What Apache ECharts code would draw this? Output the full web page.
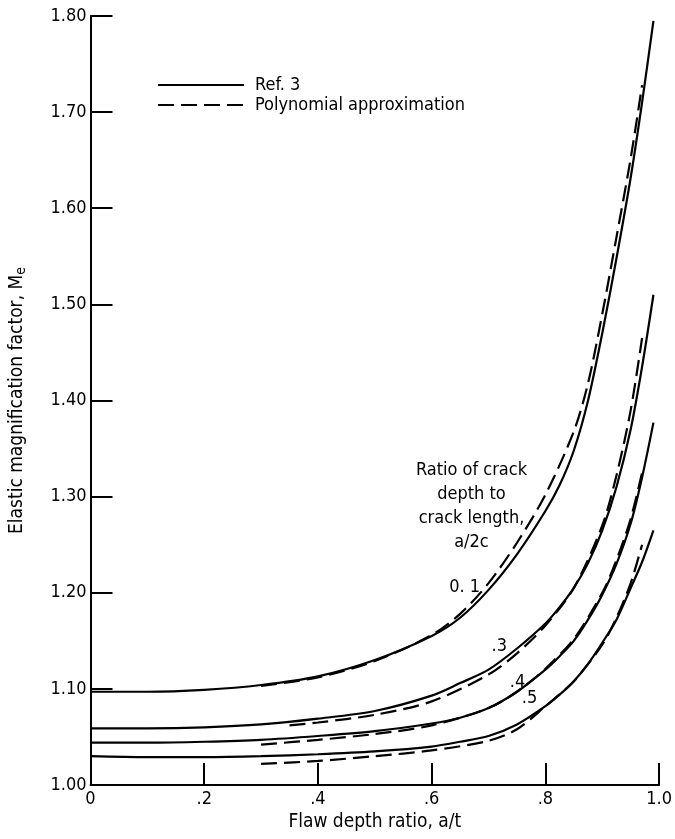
<!DOCTYPE html>
<html><head><meta charset="utf-8">
<script src="https://cdn.jsdelivr.net/npm/echarts@6/dist/echarts.min.js"></script>
<style>html,body{margin:0;padding:0;background:#fff}#c{width:675px;height:839px}</style>
</head><body><div id="c"></div>
<script>
// ---- tick labels ----
const xTickLabels = ['0', '.2', '.4', '.6', '.8', '1.0'];
const yTickLabels = ['1.00', '1.10', '1.20', '1.30', '1.40', '1.50', '1.60', '1.70', '1.80'];

// ---- Ref. 3 (solid) curves ----
const xSolid = [0, 0.1, 0.2, 0.3, 0.4, 0.5, 0.6, 0.65, 0.7, 0.75, 0.8, 0.825, 0.85, 0.875, 0.9, 0.925, 0.95, 0.97, 0.99];
const ySolid01 = [1.097, 1.097, 1.099, 1.104, 1.113, 1.130, 1.155, 1.174, 1.203, 1.240, 1.285, 1.312, 1.348, 1.400, 1.470, 1.548, 1.632, 1.710, 1.795];
const ySolid03 = [1.059, 1.059, 1.060, 1.063, 1.069, 1.077, 1.093, 1.106, 1.120, 1.142, 1.168, 1.185, 1.205, 1.231, 1.265, 1.310, 1.370, 1.435, 1.510];
const ySolid04 = [1.044, 1.044, 1.045, 1.047, 1.051, 1.056, 1.064, 1.070, 1.080, 1.097, 1.120, 1.134, 1.150, 1.172, 1.198, 1.230, 1.272, 1.320, 1.377];
const ySolid05 = [1.030, 1.029, 1.029, 1.030, 1.032, 1.035, 1.040, 1.045, 1.051, 1.063, 1.082, 1.094, 1.108, 1.126, 1.148, 1.172, 1.205, 1.232, 1.265];

// ---- Polynomial approximation (dashed) curves ----
const xDash01 = [0.3, 0.4, 0.5, 0.6, 0.65, 0.7, 0.75, 0.8, 0.85, 0.875, 0.9, 0.925, 0.95, 0.97];
const yDash01 = [1.103, 1.112, 1.129, 1.156, 1.178, 1.210, 1.252, 1.302, 1.368, 1.418, 1.490, 1.570, 1.652, 1.728];
const xDash03 = [0.35, 0.4, 0.5, 0.6, 0.7, 0.75, 0.8, 0.85, 0.9, 0.925, 0.95, 0.97];
const yDash03 = [1.062, 1.065, 1.073, 1.087, 1.115, 1.137, 1.166, 1.205, 1.270, 1.322, 1.390, 1.465];
const xDash04 = [0.3, 0.4, 0.5, 0.6, 0.7, 0.75, 0.8, 0.85, 0.9, 0.925, 0.95, 0.97];
const yDash04 = [1.042, 1.047, 1.053, 1.062, 1.080, 1.097, 1.121, 1.152, 1.200, 1.234, 1.277, 1.325];
const xDash05 = [0.3, 0.4, 0.5, 0.6, 0.7, 0.75, 0.8, 0.85, 0.9, 0.925, 0.95, 0.97];
const yDash05 = [1.022, 1.025, 1.030, 1.036, 1.046, 1.058, 1.082, 1.108, 1.146, 1.174, 1.210, 1.250];

// ---- annotations ----
const curveLabels = ['0. 1', '.3', '.4', '.5'];
const curveLabelX = [0.658, 0.719, 0.751, 0.772];
const curveLabelY = [1.206, 1.144, 1.107, 1.090];
const noteText = 'Ratio of crack\ndepth to\ncrack length,\na/2c';
const noteX = [0.670];
const noteY = [1.290];

const FONT = '"Liberation Sans Narrow", "DejaVu Sans Condensed", "Noto Sans", sans-serif';
const zip = (xs, ys) => xs.map((x, i) => [x, ys[i]]);

function lineSeries(name, xs, ys, dashed) {
  return {
    type: 'line', name: name, data: zip(xs, ys), symbol: 'none',
    smooth: 0.3, silent: true,
    lineStyle: { color: '#000', width: 2.2, type: dashed ? [16, 7] : 'solid' },
    itemStyle: { color: '#000' }
  };
}

const labelStyle = { fontFamily: FONT, fontSize: 18, color: '#000', textBorderWidth: 0, textShadowBlur: 0, opacity: 1 };

const chart = echarts.init(document.getElementById('c'), null, { renderer: 'canvas' });
chart.setOption({
  animation: false,
  backgroundColor: '#fff',
  textStyle: { fontFamily: FONT, color: '#000' },
  grid: { left: 90, right: 15, top: 16, bottom: 54 },
  legend: {
    data: ['Ref. 3', 'Polynomial approximation'],
    orient: 'vertical', left: 157, top: 76, itemWidth: 86, itemHeight: 12, itemGap: 2,
    padding: 0, selectedMode: false,
    itemStyle: { opacity: 0, borderWidth: 0 },
    textStyle: { fontFamily: FONT, fontSize: 18, color: '#000', padding: [0, 0, 0, 6] }
  },
  xAxis: {
    type: 'value', min: 0, max: 1, interval: 0.2,
    name: 'Flaw depth ratio, a/t', nameLocation: 'middle', nameGap: 25,
    nameTextStyle: { fontFamily: FONT, fontSize: 19, color: '#000' },
    axisLine: { show: true, lineStyle: { color: '#000', width: 2 } },
    axisTick: { show: true, inside: true, length: 22, lineStyle: { color: '#000', width: 2 } },
    axisLabel: { margin: 5, fontFamily: FONT, fontSize: 18, color: '#000',
      formatter: v => xTickLabels[Math.round(v / 0.2)] },
    splitLine: { show: false }
  },
  yAxis: {
    type: 'value', min: 1.0, max: 1.8, interval: 0.1,
    name: 'Elastic magnification factor, {s|M}{sub|e}', nameLocation: 'middle', nameGap: 62, nameRotate: 90,
    nameTextStyle: { fontFamily: FONT, fontSize: 19, color: '#000',
      rich: { s: { fontFamily: FONT, fontSize: 19, color: '#000' },
              sub: { fontFamily: FONT, fontSize: 14, color: '#000', verticalAlign: 'bottom', padding: [8, 0, 0, 0] } } },
    axisLine: { show: true, lineStyle: { color: '#000', width: 2 } },
    axisTick: { show: true, inside: true, length: 22, lineStyle: { color: '#000', width: 2 } },
    axisLabel: { margin: 4, fontFamily: FONT, fontSize: 18, color: '#000',
      formatter: v => yTickLabels[Math.round((v - 1) / 0.1)] },
    splitLine: { show: false }
  },
  series: [
    lineSeries('Ref. 3', xSolid, ySolid01, false),
    lineSeries('Ref. 3', xSolid, ySolid03, false),
    lineSeries('Ref. 3', xSolid, ySolid04, false),
    lineSeries('Ref. 3', xSolid, ySolid05, false),
    lineSeries('Polynomial approximation', xDash01, yDash01, true),
    lineSeries('Polynomial approximation', xDash03, yDash03, true),
    lineSeries('Polynomial approximation', xDash04, yDash04, true),
    lineSeries('Polynomial approximation', xDash05, yDash05, true),
    {
      type: 'scatter', silent: true, symbolSize: 1, itemStyle: { color: 'rgba(0,0,0,0)' },
      data: curveLabelX.map((x, i) => ({ value: [x, curveLabelY[i]], name: curveLabels[i] })),
      label: Object.assign({ show: true, position: 'inside', formatter: p => p.name }, labelStyle)
    },
    {
      type: 'scatter', silent: true, symbolSize: 1, itemStyle: { color: 'rgba(0,0,0,0)' },
      data: zip(noteX, noteY),
      label: Object.assign({ show: true, position: 'inside', formatter: () => noteText, align: 'center',
        lineHeight: 24 }, labelStyle)
    }
  ]
});
</script></body></html>
